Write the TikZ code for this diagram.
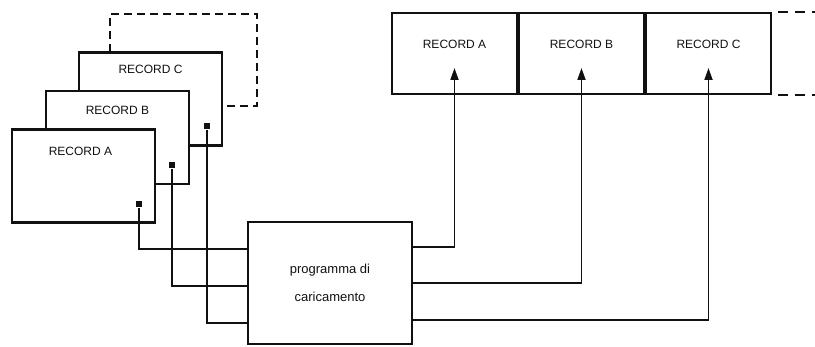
\documentclass[tikz,border=0pt]{standalone}
\usepackage{fontspec}
\setmainfont{Liberation Sans}
\usetikzlibrary{arrows.meta,positioning}
\definecolor{ink}{HTML}{111111}

\begin{document}
\begin{tikzpicture}[x=1pt, y=-1pt,
    line width=1.8pt, >={Triangle[length=12pt,width=8pt]},
    color=ink,
    card/.style={draw=ink, fill=white, line width=2.6pt, minimum width=143pt,
                 minimum height=93pt, inner sep=0pt},
    slot/.style={draw=ink, line width=2pt, minimum width=125pt, minimum height=81pt,
                 inner sep=0pt},
    tag/.style={font=\fontsize{12}{14}\selectfont, text=ink, inner sep=0pt},
    pin/.style={fill=ink, minimum size=6pt, inner sep=0pt},
    wire/.style={line width=1.8pt},
    far/.style={line width=2.6pt, dash pattern=on 8pt off 5pt}]
  % fixed 815 x 347 canvas
  \path[use as bounding box] (0,0) rectangle (815,347);

  % ================= stack of records (left) =================
  \draw[far] (110,52) -- (110,14) -- (257,14) -- (257,106) -- (222,106);
  \node[card] (cardC) at (150.5,99) {};
  \node[card] (cardB) at (117.5,137.5) {};
  \node[card] (cardA) at (83.5,176) {};
  \node[tag, below=13pt of cardC.north] (tagC) {RECORD C};
  \node[tag, below=15.5pt of cardB.north] (tagB) {RECORD B};
  \node[tag, below=18pt of cardA.north, xshift=-3pt] (tagA) {RECORD A};
  % pins on each record
  \node[pin] (pinA) at (139,204) {};
  \node[pin] (pinB) at (172,165) {};
  \node[pin] (pinC) at (207,126) {};

  % ================= loading program =================
  \node[draw=ink, line width=2pt, minimum width=164pt, minimum height=122pt,
        align=center, font=\fontsize{13}{28}\selectfont] (loader) at (330,283)
        {programma di\\caricamento};

  % ================= records in sequence (right) =================
  \node[slot] (slotA) at (454.5,53.5) {};
  \node[slot, right=0pt of slotA] (slotB) {};
  \node[slot, right=0pt of slotB] (slotC) {};
  \node[tag, below=27.5pt of slotA.north] (lblA) {RECORD A};
  \node[tag, below=27.5pt of slotB.north] (lblB) {RECORD B};
  \node[tag, below=27.5pt of slotC.north] (lblC) {RECORD C};
  \draw[far, line width=2.2pt, dash pattern=on 10pt off 7pt]
        ([xshift=6pt]slotC.north east) -- ++(48,0)
        ([xshift=6pt]slotC.south east) -- ++(48,0);

  % ================= connectors =================
  \draw[wire] (pinA) |- ([yshift=34pt]loader.west);
  \draw[wire, line width=2.8pt] (pinB) |- ([yshift=-3pt]loader.west);
  \draw[wire, line width=2.2pt] (pinC) |- ([yshift=-40pt]loader.west);
  \draw[wire, ->] ([yshift=36pt]loader.east) -| ([yshift=-14.5pt]slotA.center);
  \draw[wire, ->] ([yshift=0pt]loader.east) -| ([yshift=-14.5pt]slotB.center);
  \draw[wire, ->] ([yshift=-37pt]loader.east) -| ([yshift=-14.5pt]slotC.center);
\end{tikzpicture}
\end{document}
